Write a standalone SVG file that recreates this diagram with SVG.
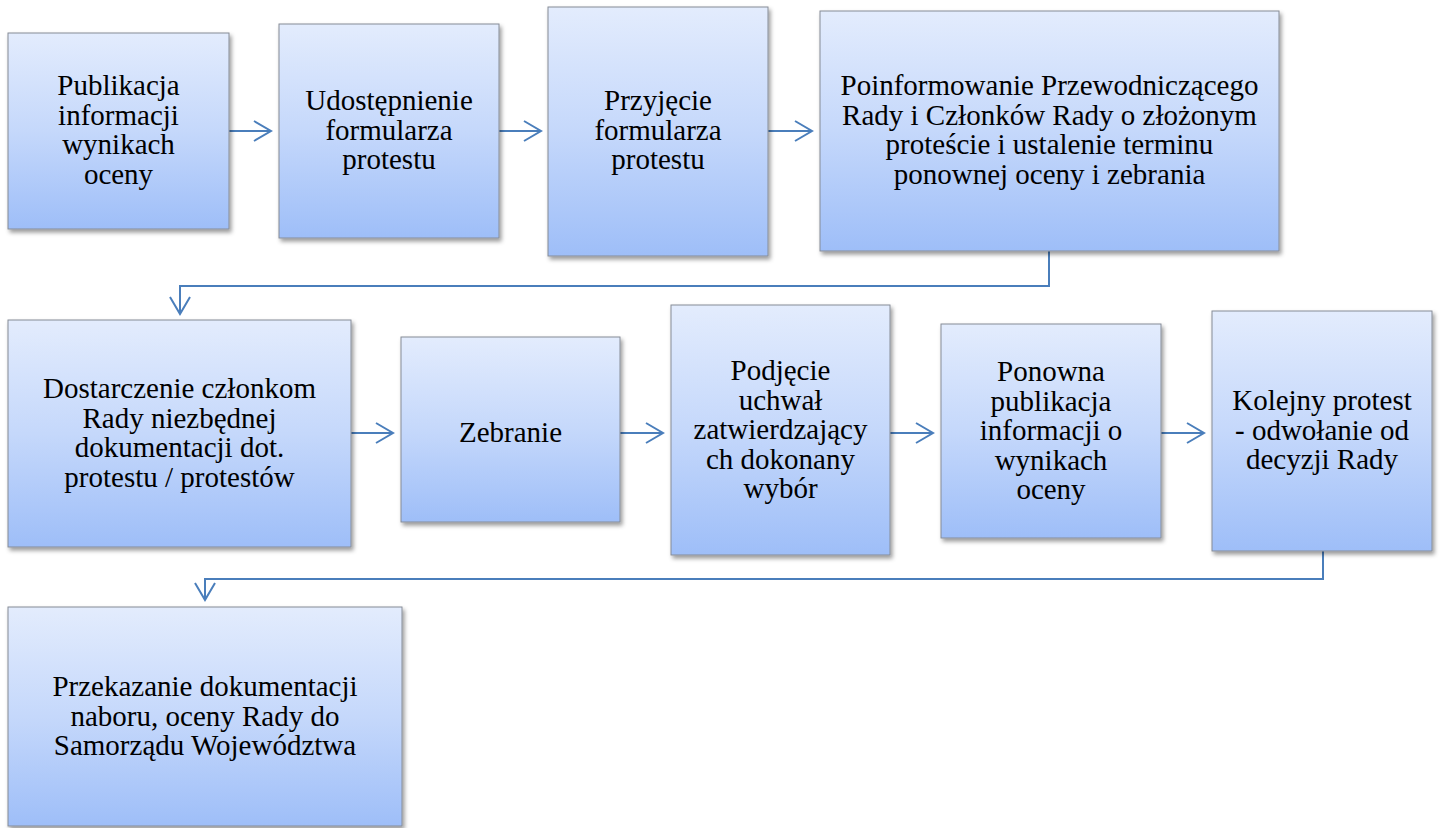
<svg xmlns="http://www.w3.org/2000/svg" width="1443" height="828" viewBox="0 0 1443 828">
<defs>
<linearGradient id="g" x1="0" y1="0" x2="0" y2="1">
<stop offset="0" stop-color="#e3ecfd"/>
<stop offset="0.5" stop-color="#c5d8fb"/>
<stop offset="1" stop-color="#9ebef8"/>
</linearGradient>
<filter id="sh" x="-10%" y="-10%" width="125%" height="125%">
<feDropShadow dx="2" dy="3" stdDeviation="2" flood-color="#000" flood-opacity="0.4"/>
</filter>
<marker id="ah" viewBox="0 0 20 22" refX="18" refY="11" markerWidth="20" markerHeight="22" markerUnits="userSpaceOnUse" orient="auto">
<path d="M1,1 L18,11 L1,21" fill="none" stroke="#4a7ebb" stroke-width="2"/>
</marker>
<style>
.box{fill:url(#g);stroke:#868c96;stroke-width:1;filter:url(#sh)}
.t{font-family:"Liberation Serif","Times New Roman",serif;font-size:29px;fill:#000;text-anchor:middle}
.c{fill:none;stroke:#4a7ebb;stroke-width:2;marker-end:url(#ah)}
</style>
</defs>
<rect width="1443" height="828" fill="#fff"/>
<g id="connectors">
<path class="c" d="M229,131 H271"/>
<path class="c" d="M499,131 H541"/>
<path class="c" d="M768,131 H812"/>
<path class="c" d="M1049,251 V286 H180 V314"/>
<path class="c" d="M351,433 H393"/>
<path class="c" d="M620,433 H663"/>
<path class="c" d="M890,433 H933"/>
<path class="c" d="M1161,433 H1204"/>
<path class="c" d="M1323,551 V579 H205 V600"/>
</g>
<g id="n1">
<rect class="box" x="8" y="33" width="221" height="196"/>
<text class="t"><tspan x="118.5" y="95">Publikacja</tspan><tspan x="118.5" y="124.5">informacji</tspan><tspan x="118.5" y="154">wynikach</tspan><tspan x="118.5" y="183.5">oceny</tspan></text>
</g>
<g id="n2">
<rect class="box" x="279" y="24" width="220" height="214"/>
<text class="t"><tspan x="389" y="110">Udostępnienie</tspan><tspan x="389" y="139.5">formularza</tspan><tspan x="389" y="169">protestu</tspan></text>
</g>
<g id="n3">
<rect class="box" x="548" y="7" width="220" height="249"/>
<text class="t"><tspan x="658" y="110">Przyjęcie</tspan><tspan x="658" y="139.5">formularza</tspan><tspan x="658" y="169">protestu</tspan></text>
</g>
<g id="n4">
<rect class="box" x="820" y="11" width="459" height="240"/>
<text class="t"><tspan x="1049.5" y="95">Poinformowanie Przewodniczącego</tspan><tspan x="1049.5" y="124.5">Rady i Członków Rady o złożonym</tspan><tspan x="1049.5" y="154">proteście i ustalenie terminu</tspan><tspan x="1049.5" y="183.5">ponownej oceny i zebrania</tspan></text>
</g>
<g id="n5">
<rect class="box" x="8" y="320" width="343" height="227"/>
<text class="t"><tspan x="179.5" y="398">Dostarczenie członkom</tspan><tspan x="179.5" y="427.5">Rady niezbędnej</tspan><tspan x="179.5" y="457">dokumentacji dot.</tspan><tspan x="179.5" y="486.5">protestu / protestów</tspan></text>
</g>
<g id="n6">
<rect class="box" x="401" y="337" width="219" height="185"/>
<text class="t"><tspan x="510.5" y="442">Zebranie</tspan></text>
</g>
<g id="n7">
<rect class="box" x="671" y="305" width="219" height="250"/>
<text class="t"><tspan x="780.5" y="380">Podjęcie</tspan><tspan x="780.5" y="409.5">uchwał</tspan><tspan x="780.5" y="439">zatwierdzający</tspan><tspan x="780.5" y="468.5">ch dokonany</tspan><tspan x="780.5" y="498">wybór</tspan></text>
</g>
<g id="n8">
<rect class="box" x="941" y="324" width="220" height="214"/>
<text class="t"><tspan x="1051" y="381">Ponowna</tspan><tspan x="1051" y="410.5">publikacja</tspan><tspan x="1051" y="440">informacji o</tspan><tspan x="1051" y="469.5">wynikach</tspan><tspan x="1051" y="499">oceny</tspan></text>
</g>
<g id="n9">
<rect class="box" x="1212" y="311" width="220" height="240"/>
<text class="t"><tspan x="1322" y="410">Kolejny protest</tspan><tspan x="1322" y="439.5">- odwołanie od</tspan><tspan x="1322" y="469">decyzji Rady</tspan></text>
</g>
<g id="n10">
<rect class="box" x="8" y="607" width="394" height="219"/>
<text class="t"><tspan x="205" y="696">Przekazanie dokumentacji</tspan><tspan x="205" y="725.5">naboru, oceny Rady do</tspan><tspan x="205" y="755">Samorządu Województwa</tspan></text>
</g>
</svg>
